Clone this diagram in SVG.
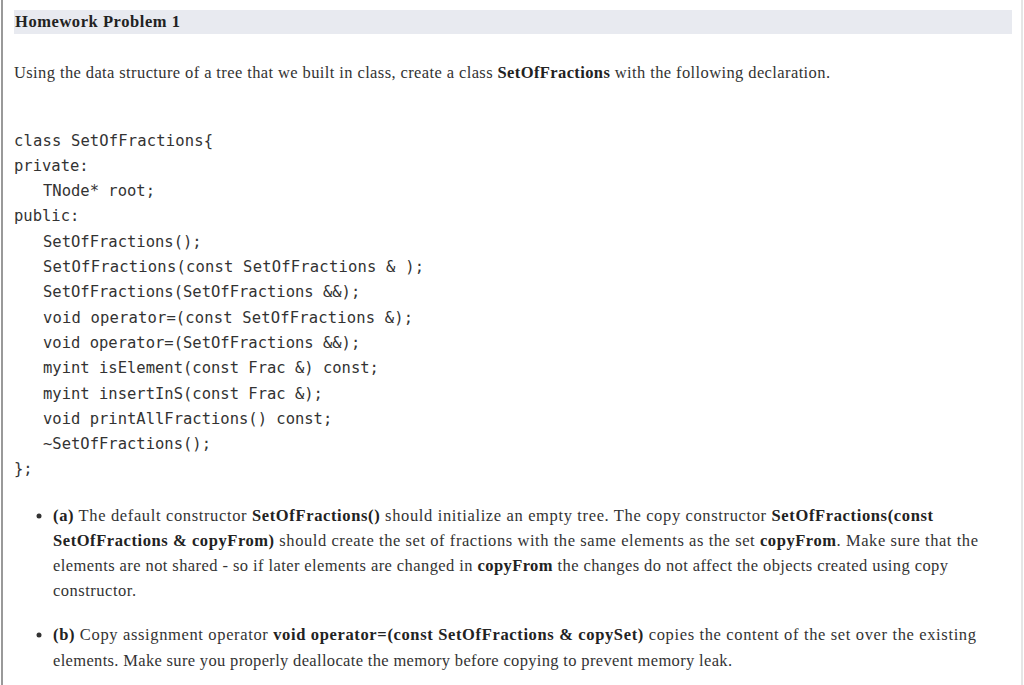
<svg xmlns="http://www.w3.org/2000/svg" width="1024" height="685" viewBox="0 0 1024 685">
<style>
.t{font-family:"Liberation Serif",serif;font-size:16.5px;fill:#333}
.b{font-weight:bold;fill:#222}
.c{font-family:"DejaVu Sans Mono","Liberation Mono",monospace;font-size:15.5px;fill:#333}
</style>
<rect width="1024" height="685" fill="#fff"/>
<line x1="2" y1="0" x2="2" y2="685" stroke="#999" stroke-width="2"/>
<line x1="1022" y1="0" x2="1022" y2="685" stroke="#ccc" stroke-width="1"/>
<rect x="14" y="10" width="998" height="24" fill="#e8eaf0"/>
<text class="t b" x="15" y="27" textLength="165">Homework Problem 1</text>
<text class="t" x="14" y="78" textLength="816">Using the data structure of a tree that we built in class, create a class <tspan class="b">SetOfFractions</tspan> with the following declaration.</text>
<g class="c">
<text x="14" y="146" textLength="199">class SetOfFractions{</text>
<text x="14" y="171">private:</text>
<text x="43" y="196">TNode* root;</text>
<text x="14" y="221">public:</text>
<text x="43" y="247">SetOfFractions();</text>
<text x="43" y="272" textLength="381">SetOfFractions(const SetOfFractions &amp; );</text>
<text x="43" y="297">SetOfFractions(SetOfFractions &amp;&amp;);</text>
<text x="43" y="323" textLength="370">void operator=(const SetOfFractions &amp;);</text>
<text x="43" y="348">void operator=(SetOfFractions &amp;&amp;);</text>
<text x="43" y="373">myint isElement(const Frac &amp;) const;</text>
<text x="43" y="399">myint insertInS(const Frac &amp;);</text>
<text x="43" y="424">void printAllFractions() const;</text>
<text x="43" y="449">~SetOfFractions();</text>
<text x="14" y="474">};</text>
</g>
<circle cx="39" cy="516" r="2.5" fill="#333"/>
<circle cx="39" cy="635" r="2.5" fill="#333"/>
<text class="t" x="53" y="521" textLength="880"><tspan class="b">(a)</tspan> The default constructor <tspan class="b">SetOfFractions()</tspan> should initialize an empty tree. The copy constructor <tspan class="b">SetOfFractions(const</tspan></text>
<text class="t" x="53" y="546" textLength="925"><tspan class="b">SetOfFractions &amp; copyFrom)</tspan> should create the set of fractions with the same elements as the set <tspan class="b">copyFrom</tspan>. Make sure that the</text>
<text class="t" x="53" y="571" textLength="895">elements are not shared - so if later elements are changed in <tspan class="b">copyFrom</tspan> the changes do not affect the objects created using copy</text>
<text class="t" x="53" y="596" textLength="83">constructor.</text>
<text class="t" x="53" y="640" textLength="923"><tspan class="b">(b)</tspan> Copy assignment operator <tspan class="b">void operator=(const SetOfFractions &amp; copySet)</tspan> copies the content of the set over the existing</text>
<text class="t" x="53" y="666" textLength="679">elements. Make sure you properly deallocate the memory before copying to prevent memory leak.</text>
</svg>
